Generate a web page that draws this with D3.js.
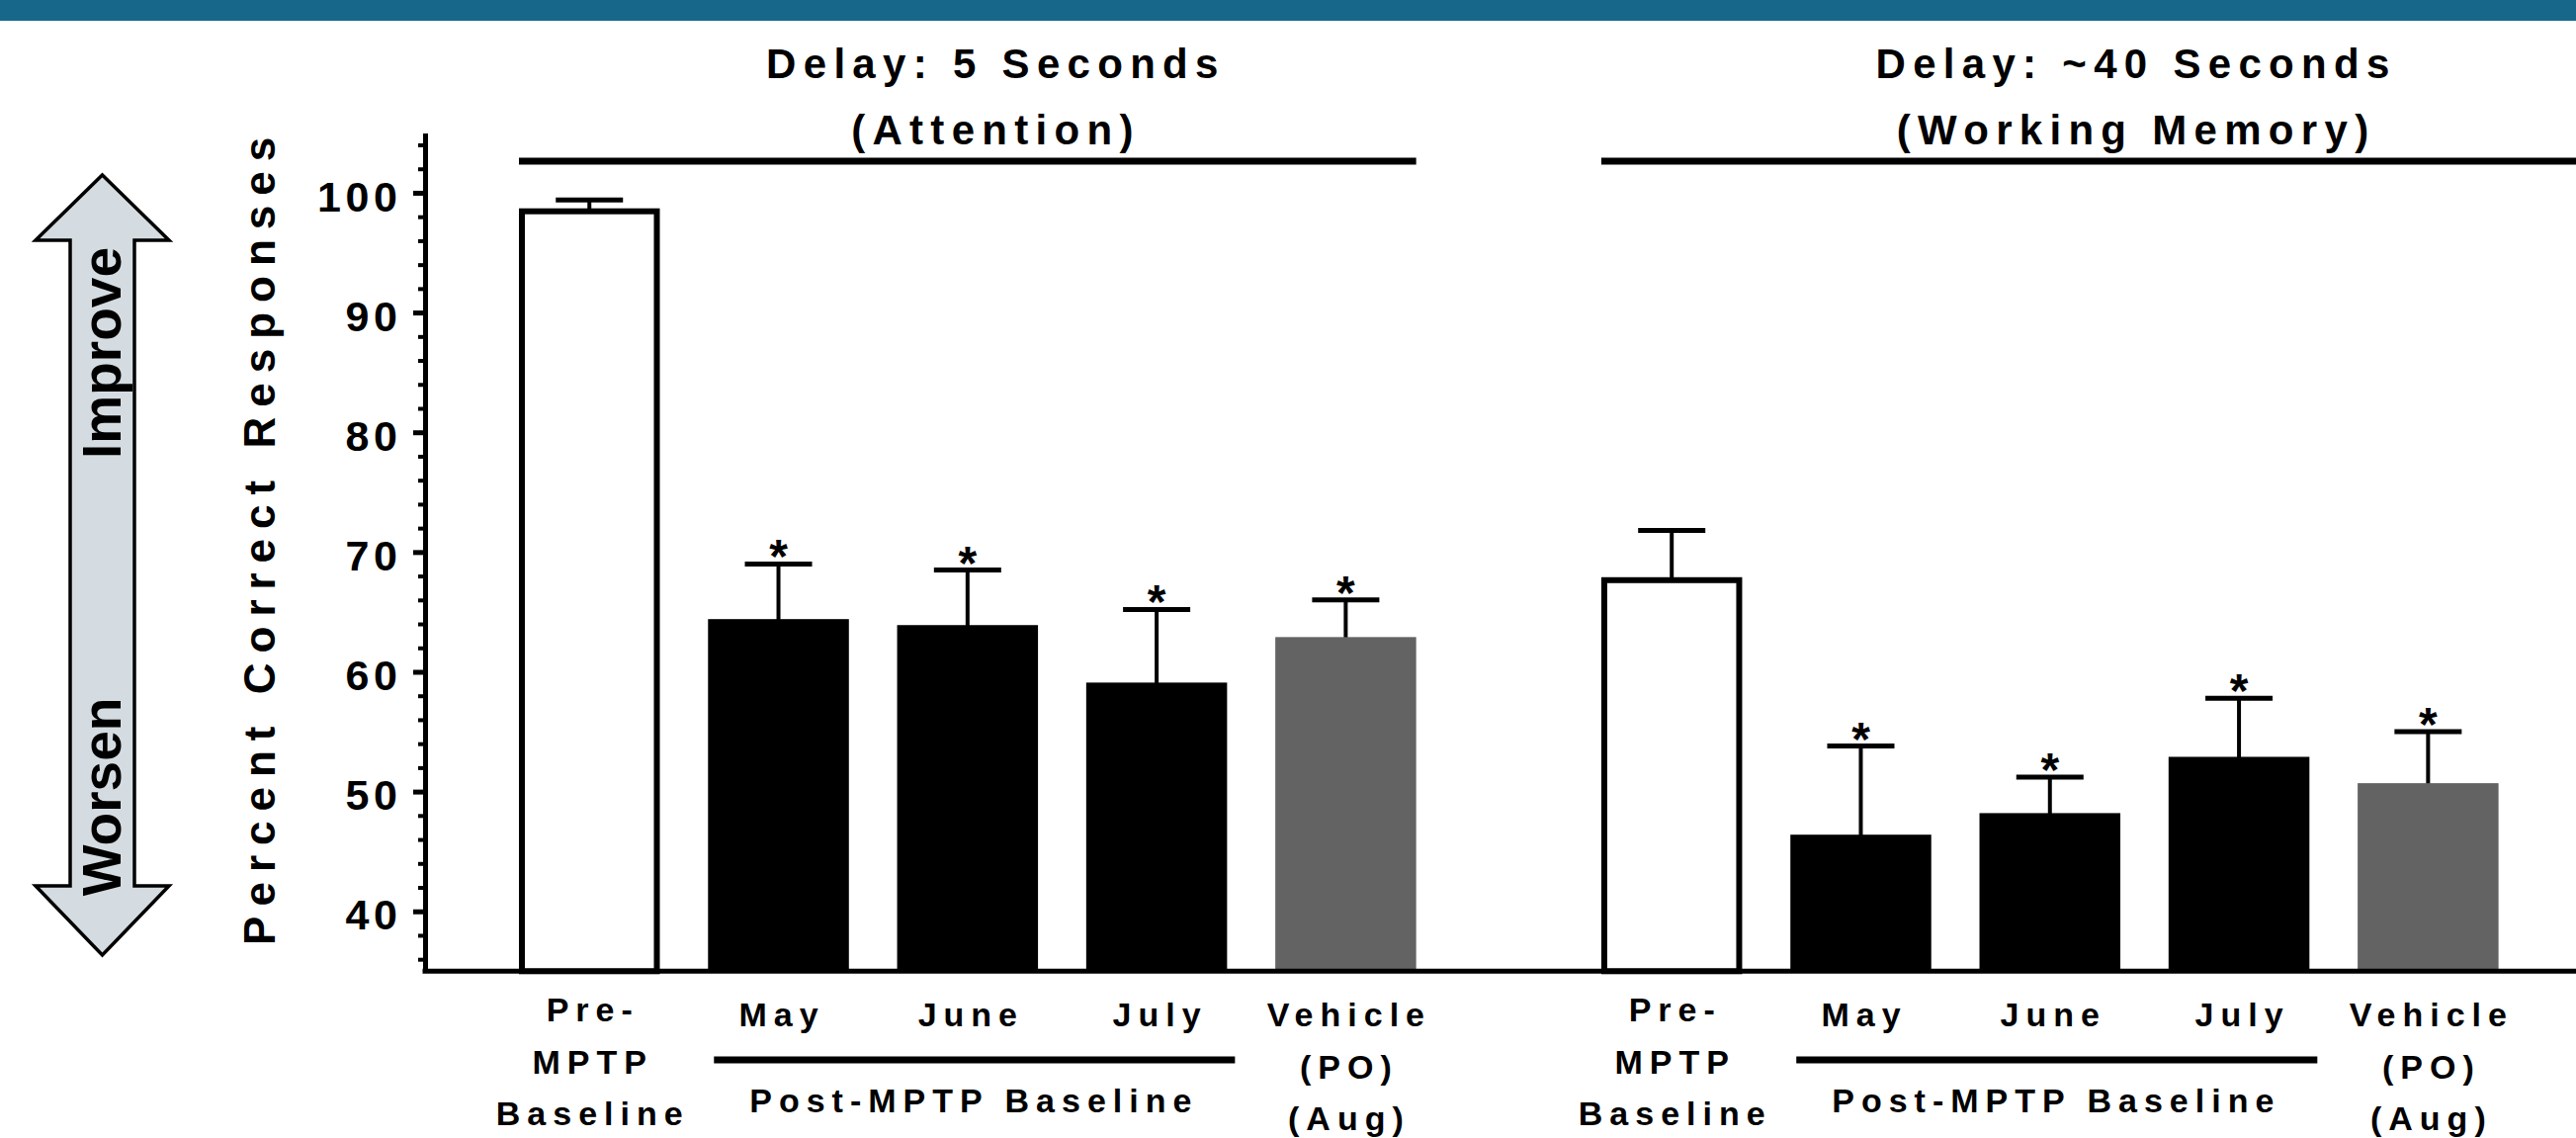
<!DOCTYPE html>
<html>
<head>
<meta charset="utf-8">
<script src="https://cdn.jsdelivr.net/npm/d3@7"></script>
<style>
  html, body { margin: 0; padding: 0; background: #fff; }
  svg { display: block; }
  text { font-family: "Liberation Sans", Arial, Helvetica, sans-serif; font-weight: bold; fill: #000; }
</style>
</head>
<body>
<div id="chart"></div>
<script>
// ---- data ----
const groups = ["Delay: 5 Seconds", "Delay: ~40 Seconds"];
const groupSubtitles = ["(Attention)", "(Working Memory)"];
const categories = ["Pre-MPTP Baseline", "May", "June", "July", "Vehicle (PO) (Aug)"];
const categoryLines = [["Pre-", "MPTP", "Baseline"], ["May"], ["June"], ["July"], ["Vehicle", "(PO)", "(Aug)"]];
const barKinds = ["open", "solid", "solid", "solid", "vehicle"];
const significant = [false, true, true, true, true];

// mean percent correct and SEM per group
const attentionMeans = [98.7, 64.4, 63.9, 59.1, 62.9];
const attentionSEM = [0.7, 4.6, 4.6, 6.1, 3.1];
const workingMemoryMeans = [67.9, 46.4, 48.2, 52.9, 50.7];
const workingMemorySEM = [3.9, 7.4, 3.0, 4.9, 4.3];

const yMajorTicks = [40, 50, 60, 70, 80, 90, 100];
const yMinorTicks = d3.range(36, 105, 2).filter(v => v % 10 !== 0);
const subgroupLabel = "Post-MPTP Baseline";
const subgroupMembers = ["May", "June", "July"];
const yTitle = "Percent Correct Responses";
const arrowLabels = ["Improve", "Worsen"];

const means = [attentionMeans, workingMemoryMeans];
const sems = [attentionSEM, workingMemorySEM];

// ---- layout ----
const W = 2606, H = 1151;
const axisX = 430, plotTop = 134.4, plotBottom = 982.3, plotRight = 2645;
const fills = { open: "#ffffff", solid: "#000000", vehicle: "#636363" };

const svg = d3.select("#chart").append("svg")
  .attr("width", W).attr("height", H).attr("viewBox", `0 0 ${W} ${H}`);

svg.append("rect").attr("x", 0).attr("y", 0).attr("width", W).attr("height", 21).attr("fill", "#17678b");

const y = d3.scaleLinear().domain([35, 105]).range([plotBottom, plotTop]);
const gx = d3.scaleBand().domain(groups).range([500.6, 2552]).paddingInner(0.1265).paddingOuter(0);
const x = d3.scaleBand().domain(categories).range([0, gx.bandwidth()]).paddingInner(0.255).paddingOuter(0.1275);
const bw = x.bandwidth();

// ---- bars, error bars, significance marks ----
groups.forEach((g, gi) => {
  const gg = svg.append("g").attr("class", "group");
  categories.forEach((c, ci) => {
    const m = means[gi][ci], s = sems[gi][ci];
    const bx = gx(g) + x(c), top = y(m), bottom = y(35);
    const cx = bx + bw / 2, capY = y(m + s);
    // error bar (upper only)
    gg.append("line").attr("x1", cx).attr("x2", cx).attr("y1", top + 2).attr("y2", capY)
      .attr("stroke", "#000").attr("stroke-width", 4);
    gg.append("line").attr("x1", cx - 34).attr("x2", cx + 34).attr("y1", capY).attr("y2", capY)
      .attr("stroke", "#000").attr("stroke-width", 5);
    if (barKinds[ci] === "open") {
      gg.append("rect").attr("x", bx + 3).attr("y", top + 3).attr("width", bw - 6).attr("height", bottom - top - 3)
        .attr("fill", fills.open).attr("stroke", "#000").attr("stroke-width", 6);
    } else {
      gg.append("rect").attr("x", bx).attr("y", top).attr("width", bw).attr("height", bottom - top)
        .attr("fill", fills[barKinds[ci]]);
    }
    if (significant[ci]) {
      gg.append("text").attr("x", cx).attr("y", capY + 9).attr("text-anchor", "middle")
        .style("font-size", "48px").text("*");
    }
  });

  // group bracket line and title
  const x1 = gx(g) + x(categories[0]);
  const x2 = gi === groups.length - 1 ? plotRight : gx(g) + x(categories[categories.length - 1]) + bw;
  svg.append("line").attr("x1", x1).attr("x2", x2).attr("y1", 163).attr("y2", 163)
    .attr("stroke", "#000").attr("stroke-width", 7);
  const tx = (x1 + x2) / 2 + 25;
  [groups[gi], groupSubtitles[gi]].forEach((t, li) => {
    svg.append("text").attr("x", tx).attr("y", 79 + li * 67).attr("dx", 3.6)
      .attr("text-anchor", "middle").style("font-size", "42px").style("letter-spacing", "7.3px").text(t);
  });

  // category labels
  categories.forEach((c, ci) => {
    const cx = gx(g) + x(c) + bw / 2;
    const base = ci === 0 ? 1033 : 1038;
    categoryLines[ci].forEach((ln, li) => {
      svg.append("text").attr("x", cx).attr("y", base + li * 52.5).attr("dx", 3.5)
        .attr("text-anchor", "middle").style("font-size", "34px").style("letter-spacing", "7px").text(ln);
    });
  });

  // post-MPTP bracket under the x labels
  const sx1 = gx(g) + x(subgroupMembers[0]) + 6;
  const sx2 = gx(g) + x(subgroupMembers[subgroupMembers.length - 1]) + bw + 8;
  svg.append("line").attr("x1", sx1).attr("x2", sx2).attr("y1", 1072).attr("y2", 1072)
    .attr("stroke", "#000").attr("stroke-width", 7);
  svg.append("text").attr("x", (sx1 + sx2) / 2 - 4).attr("y", 1125).attr("dx", 3.5)
    .attr("text-anchor", "middle").style("font-size", "34px").style("letter-spacing", "7px").text(subgroupLabel);
});

// ---- axes ----
svg.append("line").attr("x1", axisX - 2.5).attr("x2", plotRight).attr("y1", plotBottom).attr("y2", plotBottom)
  .attr("stroke", "#000").attr("stroke-width", 5);

const yMinor = svg.append("g").attr("transform", `translate(${axisX},0)`)
  .call(d3.axisLeft(y).tickValues(yMinorTicks).tickSize(7).tickSizeOuter(0).tickFormat(""));
yMinor.select(".domain").remove();
yMinor.selectAll(".tick line").attr("stroke", "#000").attr("stroke-width", 4);

const yMajor = svg.append("g").attr("transform", `translate(${axisX},0)`)
  .call(d3.axisLeft(y).tickValues(yMajorTicks).tickSize(12).tickSizeOuter(0).tickFormat(d3.format("d")));
yMajor.select(".domain").attr("stroke", "#000").attr("stroke-width", 5);
yMajor.selectAll(".tick line").attr("stroke", "#000").attr("stroke-width", 5);
yMajor.selectAll(".tick text")
  .attr("x", -23.5).attr("dy", "0.42em").attr("fill", "#000")
  .style("font-size", "43px").style("letter-spacing", "4.6px")
  .style("font-family", "'Liberation Sans', Arial, sans-serif").style("font-weight", "bold");

svg.append("text")
  .attr("transform", `translate(278, ${(plotTop + plotBottom) / 2 - 11}) rotate(-90)`)
  .attr("dx", 5).attr("text-anchor", "middle")
  .style("font-size", "44px").style("letter-spacing", "10px").text(yTitle);

// ---- improve / worsen double arrow ----
const arrowPts = [[103.5, 177], [171, 243], [136, 243], [136, 896], [171, 896], [103.5, 966],
                  [36, 896], [71, 896], [71, 243], [36, 243]];
svg.append("polygon").attr("points", arrowPts.map(p => p.join(",")).join(" "))
  .attr("fill", "#d5dce1").attr("stroke", "#000").attr("stroke-width", 3.5).attr("stroke-linejoin", "miter");
[[357, arrowLabels[0]], [806, arrowLabels[1]]].forEach(([cy, t]) => {
  svg.append("text").attr("transform", `translate(122, ${cy}) rotate(-90)`)
    .attr("text-anchor", "middle").style("font-size", "55px").text(t);
});
</script>
</body>
</html>
